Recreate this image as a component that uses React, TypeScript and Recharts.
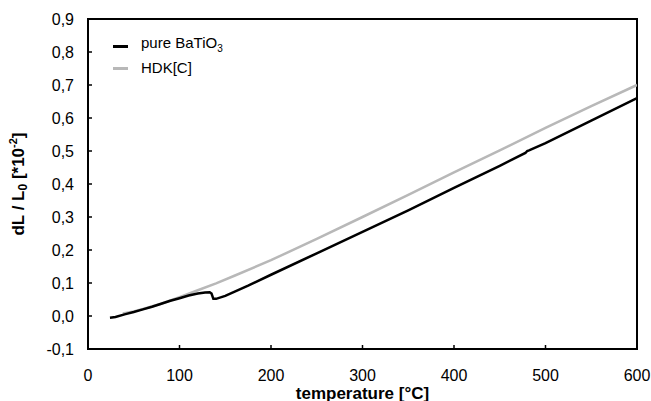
import { LineChart, Line, XAxis, YAxis, Label, ReferenceArea } from "recharts";

const FONT = "'Liberation Sans', Arial, sans-serif";

// pure BaTiO3 (black)
const pureTemp = [24, 30, 40, 50, 60, 70, 80, 90, 100, 110, 120, 128, 133, 135, 137, 140, 150, 175, 200, 250, 300, 350, 400, 450, 478, 480, 482, 500, 550, 600];
const pureVal = [-0.005, -0.003, 0.005, 0.012, 0.02, 0.028, 0.037, 0.046, 0.054, 0.062, 0.068, 0.071, 0.072, 0.068, 0.052, 0.052, 0.061, 0.092, 0.125, 0.19, 0.255, 0.32, 0.388, 0.455, 0.494, 0.5, 0.502, 0.524, 0.592, 0.66];

// HDK[C] (grey)
const hdkTemp = [38, 50, 60, 80, 100, 120, 140, 160, 200, 250, 300, 350, 400, 450, 500, 550, 600];
const hdkVal = [0.008, 0.014, 0.021, 0.037, 0.057, 0.078, 0.099, 0.122, 0.169, 0.234, 0.3, 0.367, 0.435, 0.502, 0.57, 0.636, 0.7];

const xTicks = [0, 100, 200, 300, 400, 500, 600];
const yTicks = [-0.1, 0, 0.1, 0.2, 0.3, 0.4, 0.5, 0.6, 0.7, 0.8, 0.9];

const pureData = pureTemp.map((t, i) => ({ t, v: pureVal[i] }));
const hdkData = hdkTemp.map((t, i) => ({ t, v: hdkVal[i] }));

const fmtY = (v: number) => v.toFixed(1).replace(".", ",");

function LegendBox() {
  const rows = [
    { color: "#000", label: <>pure BaTiO<sub style={{ fontSize: 10 }}>3</sub></> },
    { color: "#b8b8b8", label: <>HDK[C]</> },
  ];
  return (
    <div style={{ position: "absolute", left: 113, top: 35, fontFamily: FONT, fontSize: 15, lineHeight: "22px" }}>
      {rows.map((r, i) => (
        <div key={i} style={{ display: "flex", alignItems: "center", height: 22 }}>
          <span style={{ display: "inline-block", width: 15, height: 3, background: r.color, marginRight: 13 }} />
          <span style={{ color: "#000" }}>{r.label}</span>
        </div>
      ))}
    </div>
  );
}

export default function App() {
  return (
    <div style={{ position: "absolute", left: 0, top: 0, width: 651, height: 401, background: "#fff" }}>
      <LineChart width={651} height={401} margin={{ top: 19, right: 14, bottom: 0, left: 0 }}>
        <XAxis
          type="number"
          dataKey="t"
          domain={[0, 600]}
          ticks={xTicks}
          height={52}
          tickSize={-4}
          tickMargin={25}
          axisLine={{ stroke: "#000", strokeWidth: 2 }}
          tickLine={{ stroke: "#000", strokeWidth: 1.5 }}
          tick={{ fill: "#000", fontSize: 16, fontFamily: FONT }}
          allowDataOverflow
        >
          <Label
            content={({ viewBox }: any) => (
              <text
                x={viewBox.x + viewBox.width / 2}
                y={399}
                textAnchor="middle"
                fontFamily={FONT}
                fontWeight="bold"
                fontSize={17}
                fill="#000"
              >
                temperature [°C]
              </text>
            )}
          />
        </XAxis>
        <YAxis
          type="number"
          domain={[-0.1, 0.9]}
          ticks={yTicks}
          width={88}
          tickSize={-4}
          tickMargin={18}
          tickFormatter={fmtY}
          axisLine={{ stroke: "#000", strokeWidth: 2 }}
          tickLine={{ stroke: "#000", strokeWidth: 1.5 }}
          tick={{ fill: "#000", fontSize: 16, fontFamily: FONT }}
          allowDataOverflow
        >
          <Label
            content={({ viewBox }: any) => {
              const cx = 24;
              const cy = viewBox.y + viewBox.height / 2;
              return (
                <text
                  transform={`translate(${cx},${cy}) rotate(-90)`}
                  textAnchor="middle"
                  fontFamily={FONT}
                  fontWeight="bold"
                  fontSize={17}
                  fill="#000"
                >
                  dL / L<tspan fontSize={12} dy={3}>0</tspan>
                  <tspan dy={-3}> [*10</tspan>
                  <tspan fontSize={11} dy={-7}>-2</tspan>
                  <tspan dy={7}>]</tspan>
                </text>
              );
            }}
          />
        </YAxis>
        <ReferenceArea x1={0} x2={600} y1={-0.1} y2={0.9} fill="none" stroke="#000" strokeWidth={2} ifOverflow="visible" />
        <Line data={hdkData} dataKey="v" name="HDK[C]" stroke="#b8b8b8" strokeWidth={2.5} dot={false} isAnimationActive={false} />
        <Line data={pureData} dataKey="v" name="pure BaTiO3" stroke="#000" strokeWidth={2.5} dot={false} isAnimationActive={false} />
      </LineChart>
      <LegendBox />
    </div>
  );
}
